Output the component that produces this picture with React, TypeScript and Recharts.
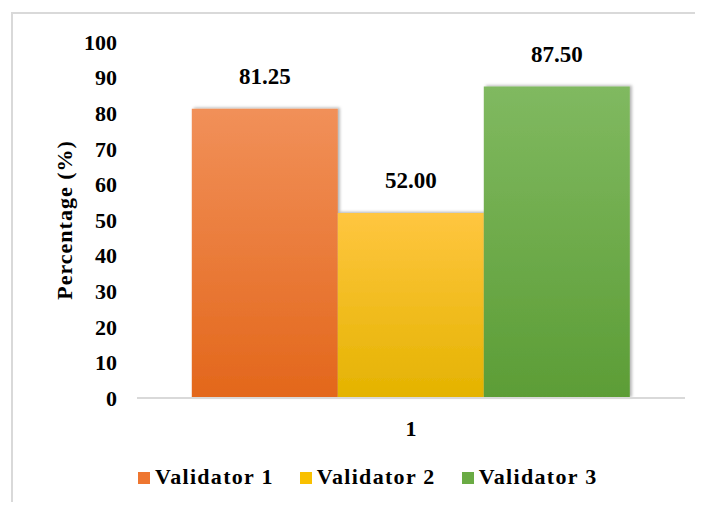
import React from 'react';
import { BarChart, Bar, XAxis, YAxis, LabelList } from 'recharts';

// values per validator, one category on the x axis
const categories = ['1'];
const validatorNames = ['Validator 1', 'Validator 2', 'Validator 3'];
const validator1 = [81.25];
const validator2 = [52.0];
const validator3 = [87.5];
const yTicks = [0, 10, 20, 30, 40, 50, 60, 70, 80, 90, 100];

const seriesKeys = ['v1', 'v2', 'v3'];
const fills = [
  { id: 'gradV1', top: '#f19059', bottom: '#e3671b', swatch: '#ee7630' },
  { id: 'gradV2', top: '#ffc640', bottom: '#e4b300', swatch: '#f9c000' },
  { id: 'gradV3', top: '#80b960', bottom: '#5c9d36', swatch: '#6aab44' },
];

const rows = categories.map((name, i) => ({
  name,
  v1: validator1[i],
  v2: validator2[i],
  v3: validator3[i],
}));

const FONT = '"Liberation Serif", "Times New Roman", serif';

const App: React.FC = () => {
  return (
    <div
      style={{
        position: 'relative',
        width: 703,
        height: 510,
        margin: -8,
        overflow: 'hidden',
        background: '#fff',
        fontFamily: FONT,
      }}
    >
      {/* frame, only the left and top edges fall inside the view */}
      <div
        style={{
          position: 'absolute',
          left: 11,
          top: 12,
          width: 760,
          height: 560,
          borderLeft: '2px solid #d9d9d9',
          borderTop: '2px solid #d9d9d9',
        }}
      />
      <div style={{ position: 'absolute', left: 0, top: 0 }}>
        <BarChart
          width={703}
          height={510}
          data={rows}
          margin={{ top: 42, right: 18, bottom: 72, left: 0 }}
          barCategoryGap="10%"
          barGap={0}
        >
          <defs>
            {fills.map((f) => (
              <linearGradient key={f.id} id={f.id} x1="0" y1="0" x2="0" y2="1">
                <stop offset="0%" stopColor={f.top} />
                <stop offset="100%" stopColor={f.bottom} />
              </linearGradient>
            ))}
            <filter id="barShadow" x="-10%" y="-10%" width="125%" height="120%">
              <feDropShadow dx={2} dy={-1} stdDeviation={1.5} floodColor="#000" floodOpacity={0.3} />
            </filter>
          </defs>
          <XAxis
            dataKey="name"
            height={40}
            axisLine={{ stroke: '#d9d9d9', strokeWidth: 2 }}
            tickLine={false}
            tickSize={0}
            tickMargin={22}
            tick={{ fill: '#000', fontSize: 22, fontWeight: 700, fontFamily: FONT }}
          />
          <YAxis
            width={137}
            domain={[0, 100]}
            ticks={yTicks}
            interval={0}
            axisLine={false}
            tickLine={false}
            tickSize={0}
            tickMargin={20}
            tick={{ fill: '#000', fontSize: 22, fontWeight: 700, fontFamily: FONT }}
            label={{
              value: 'Percentage (%)',
              angle: -90,
              position: 'insideLeft',
              offset: 64,
              style: {
                textAnchor: 'middle',
                fill: '#000',
                fontSize: 22,
                fontWeight: 700,
                fontFamily: FONT,
                letterSpacing: 1,
              },
            }}
          />
          {seriesKeys.map((key, i) => (
            <Bar
              key={key}
              dataKey={key}
              name={validatorNames[i]}
              fill={`url(#${fills[i].id})`}
              filter="url(#barShadow)"
              isAnimationActive={false}
            >
              <LabelList
                dataKey={key}
                position="top"
                offset={25}
                formatter={(v: any) => Number(v).toFixed(2)}
                style={{ fill: '#000', fontSize: 23, fontWeight: 700, fontFamily: FONT }}
              />
            </Bar>
          ))}
        </BarChart>
      </div>
      {/* legend */}
      <div
        style={{
          position: 'absolute',
          left: 138,
          top: 464,
          display: 'flex',
          alignItems: 'center',
          fontSize: 22,
          fontWeight: 700,
          letterSpacing: 1.3,
          color: '#000',
          whiteSpace: 'nowrap',
        }}
      >
        {validatorNames.map((n, i) => (
          <div key={n} style={{ display: 'flex', alignItems: 'center', marginRight: 26 }}>
            <span
              style={{
                display: 'inline-block',
                width: 12,
                height: 12,
                background: fills[i].swatch,
                marginRight: 5,
                marginTop: 2,
              }}
            />
            <span>{n}</span>
          </div>
        ))}
      </div>
    </div>
  );
};

export default App;
